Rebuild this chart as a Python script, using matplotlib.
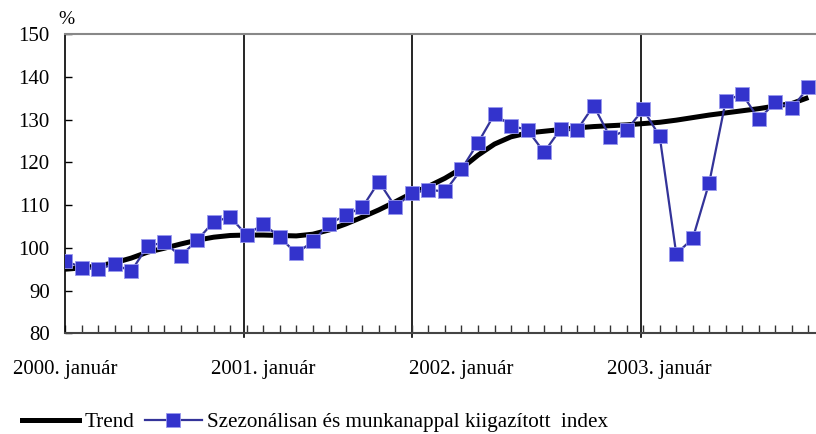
""" Seasonally adjusted index vs trend, 2000-2003 """

import matplotlib
matplotlib.use("Agg")
import matplotlib.pyplot as plt
from matplotlib.lines import Line2D

plt.rcParams["font.family"] = ["Liberation Serif", "DejaVu Serif"]

# monthly values from 2000 January on
index_values = [97.0, 95.4, 95.0, 96.2, 94.5, 100.4, 101.3, 98.1, 101.8, 106.1,
                107.2, 103.0, 105.6, 102.5, 98.7, 101.5, 105.6, 107.7, 109.5, 115.5,
                109.6, 112.9, 113.6, 113.2, 118.4, 124.6, 131.3, 128.6, 127.6, 122.4,
                127.8, 127.6, 133.3, 125.9, 127.6, 132.4, 126.1, 98.6, 102.2, 115.3,
                134.5, 136.0, 130.1, 134.1, 132.7, 137.6]
trend_values = [95.0, 95.3, 95.8, 96.5, 97.6, 99.0, 99.9, 100.9, 101.8, 102.5,
                102.9, 103.0, 103.0, 102.9, 102.8, 103.2, 104.2, 105.6, 107.2, 108.9,
                110.8, 112.8, 114.4, 116.3, 118.6, 121.7, 124.3, 126.0, 126.9, 127.3,
                127.7, 128.1, 128.4, 128.6, 128.8, 129.1, 129.4, 129.9, 130.5, 131.1,
                131.6, 132.1, 132.6, 133.2, 133.8, 135.2]
year_labels = ["2000. január", "2001. január", "2002. január", "2003. január"]
year_pos = [0, 12, 24, 36]
divider_pos = [10.85, 21.0, 34.87]

months = list(range(len(index_values)))

fig = plt.figure(figsize=(8.16, 4.34), dpi=100)
ax = fig.add_axes([65 / 816, 1 - 333.3 / 434, 1 - 65 / 816, (333.3 - 34.3) / 434])

ax.plot(months, trend_values, color="black", lw=3.6, zorder=2,
        solid_capstyle="butt")
ax.plot(months, index_values, color="#333399", lw=1.6, marker="s", ms=10.5,
        mfc="#3333CC", mec="#9999EE", mew=0.6, zorder=3)

for x in divider_pos:
    ax.plot([x, x], [79.1, 150], color="black", lw=1.2, zorder=1, clip_on=False)

ax.set_xlim(0, 45.46)
ax.set_ylim(80, 150)
ax.set_yticks(range(80, 151, 10))
ax.set_xticks(year_pos)
ax.set_xticklabels(year_labels)
ax.set_xticks(months, minor=True)

ax.tick_params(axis="y", direction="in", length=5, width=1, labelsize=15, pad=11)
ax.tick_params(axis="x", which="both", direction="in", length=6, width=1,
               labelsize=15, pad=19, color="#333333")
ax.tick_params(axis="x", which="minor", bottom=True)

ax.spines["right"].set_visible(False)
ax.spines["top"].set_color("#888888")
ax.spines["top"].set_linewidth(1.5)
ax.spines["left"].set_color("black")
ax.spines["left"].set_linewidth(1.2)
ax.spines["bottom"].set_color("#444444")
ax.spines["bottom"].set_linewidth(1.5)

fig.text(66 / 816, 1 - 20 / 434, "%", fontsize=14, ha="center", va="center")

handles = [
    Line2D([], [], color="black", lw=3.6),
    Line2D([], [], color="#333399", lw=1.6, marker="s", ms=10.5,
           mfc="#3333CC", mec="#9999EE", mew=0.6),
]
fig.legend(handles, ["Trend", "Szezonálisan és munkanappal kiigazított  index"],
           loc="center left", bbox_to_anchor=(22 / 816, 1 - 422 / 434),
           ncol=2, frameon=False, fontsize=15.2, handlelength=2.7,
           handletextpad=0.25, columnspacing=0.5, borderpad=0,
           borderaxespad=0)

fig.savefig("out.png", dpi=100)
